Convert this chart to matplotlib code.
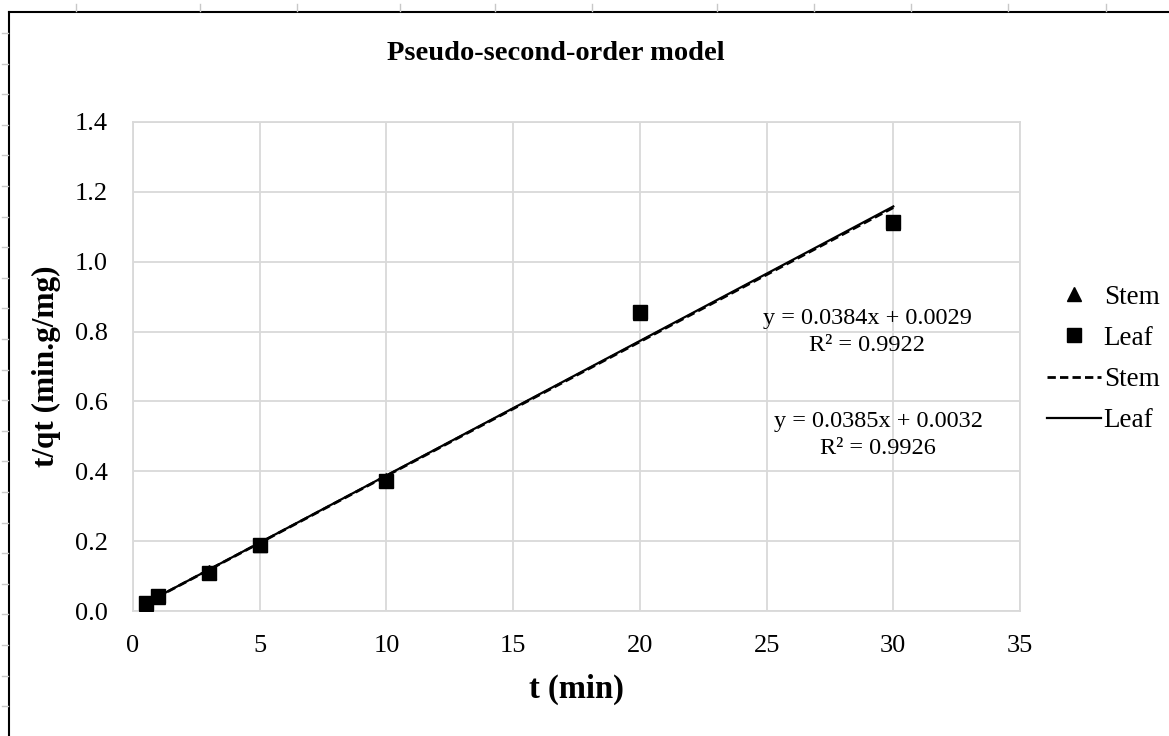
import matplotlib.pyplot as plt
import numpy as np
from matplotlib.lines import Line2D

plt.rcParams['font.family'] = ['Liberation Serif', 'DejaVu Serif']

# contact time (min) and t/qt (min.g/mg)
t = [0.5, 1, 3, 5, 10, 20, 30]
stem = [0.021, 0.041, 0.112, 0.190, 0.374, 0.852, 1.112]
leaf = [0.022, 0.042, 0.110, 0.190, 0.372, 0.855, 1.115]

# linear fits
stem_fit = (0.0384, 0.0029, 0.9922)
leaf_fit = (0.0385, 0.0032, 0.9926)

xticks = [0, 5, 10, 15, 20, 25, 30, 35]
yticks = [0.0, 0.2, 0.4, 0.6, 0.8, 1.0, 1.2, 1.4]

W, H = 1169, 736
fig = plt.figure(figsize=(W / 100, H / 100), dpi=100)
ax = fig.add_axes([133 / W, 1 - 611 / H, (1020 - 133) / W, (611 - 122) / H])

grid_c = '#d9d9d9'
ax.plot(t, stem, linestyle='none', marker='^', color='black', markersize=10, label='Stem', zorder=3)
ax.plot(t, leaf, linestyle='none', marker='s', color='black', markersize=10, label='Leaf', zorder=4)

tx = np.array([t[0], t[-1]])
ax.plot(tx, stem_fit[0] * tx + stem_fit[1], color='black', lw=2.0, ls=(0, (3, 1.5)), label='Stem', zorder=2)
ax.plot(tx, leaf_fit[0] * tx + leaf_fit[1], color='black', lw=1.6, label='Leaf', zorder=2)

ax.set_xlim(0, 35)
ax.set_ylim(0, 1.4)
ax.set_xticks(xticks)
ax.set_yticks(yticks)
ax.set_yticklabels([f'{v:.1f}' for v in yticks])
ax.tick_params(axis='y', length=0, labelsize=19, pad=18)
ax.tick_params(axis='x', length=0, labelsize=19, pad=17)
ax.grid(True, color=grid_c, lw=1.3)
ax.set_axisbelow(True)
for s in ax.spines.values():
    s.set_color(grid_c)
    s.set_linewidth(1.3)

ax.set_xlabel('t (min)', fontsize=23.5, fontweight='bold', labelpad=12)
ax.set_ylabel('t/qt (min.g/mg)', fontsize=22.5, fontweight='bold', labelpad=10)
fig.text(556 / W, 1 - 54 / H, 'Pseudo-second-order model', ha='center', va='center',
         fontsize=20.5, fontweight='bold')

for (m, b, r2), (px, py) in [(stem_fit, (867, 332)), (leaf_fit, (878, 435))]:
    fig.text(px / W, 1 - py / H, f'y = {m:.4f}x + {b:.4f}\nR² = {r2:.4f}', ha='center', va='center',
             fontsize=17.5, linespacing=1.35)

fig.legend(loc='center left', bbox_to_anchor=(1036 / W, 1 - 359 / H), frameon=False, fontsize=19.5,
           handlelength=2.0, handletextpad=0.1, labelspacing=0.6, borderaxespad=0)

# page frame with ruler ticks
fig.add_artist(Line2D([9 / W, 9 / W], [0, 1 - 12 / H], color='black', lw=1.5))
fig.add_artist(Line2D([9 / W, 1], [1 - 12 / H, 1 - 12 / H], color='black', lw=1.5))
for x in [76, 200, 297, 400, 495, 592, 717, 814, 911, 1008, 1106]:
    fig.add_artist(Line2D([x / W, x / W], [1 - 4 / H, 1 - 11 / H], color='#c8c8c8', lw=1))
for y in np.arange(33, H, 30.6):
    fig.add_artist(Line2D([2 / W, 8 / W], [1 - y / H, 1 - y / H], color='#c8c8c8', lw=1))

fig.savefig('out.png', dpi=100)
